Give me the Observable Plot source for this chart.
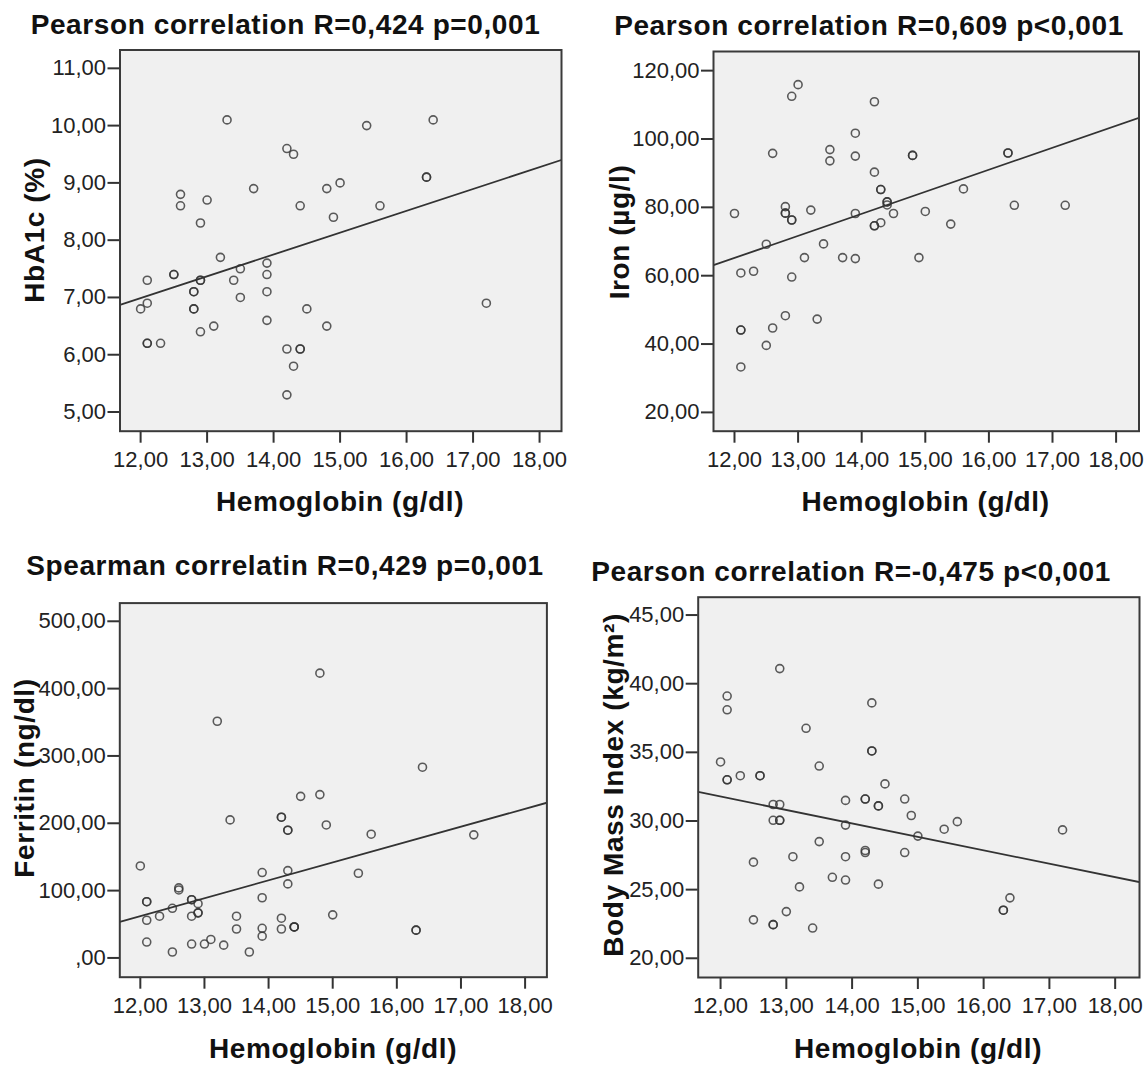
<!DOCTYPE html>
<html>
<head>
<meta charset="utf-8">
<script src="https://cdn.jsdelivr.net/npm/d3@7"></script>
<script src="https://cdn.jsdelivr.net/npm/@observablehq/plot@0.6"></script>
<style>
  html, body { margin: 0; padding: 0; background: #fff; }
  #chart { position: relative; width: 1144px; height: 1065px; overflow: hidden; background: #fff;
           font-family: "Liberation Sans", Arial, sans-serif; }
  .lbl { position: absolute; left: 0; top: 0; white-space: nowrap; transform-origin: 0 0;
         font-family: "Liberation Sans", Arial, sans-serif; font-weight: bold; font-size: 28px;
         line-height: 28px; letter-spacing: 0.6px; color: #111; }
  .panel { position: absolute; }
</style>
</head>
<body>
<div id="chart"></div>
<script>
// ---------- data ----------
const hbTicks = [12, 13, 14, 15, 16, 17, 18];

// Panel A: HbA1c vs Hemoglobin
const hbA = [13.3,15.4,16.4,14.2,14.3,16.3,16.3,15.0,14.8,13.7,12.6,12.6,13.0,14.4,15.6,14.9,12.9,13.2,12.5,12.5,12.1,12.9,12.9,13.4,13.5,13.9,13.9,13.9,12.8,12.8,13.5,12.1,12.0,12.8,12.8,14.5,17.2,13.1,12.9,14.8,13.9,12.1,12.1,12.3,14.2,14.4,14.4,14.3,14.2];
const hba1c = [10.1,10.0,10.1,9.6,9.5,9.1,9.1,9.0,8.9,8.9,8.8,8.6,8.7,8.6,8.6,8.4,8.3,7.7,7.4,7.4,7.3,7.3,7.3,7.3,7.5,7.6,7.4,7.1,7.1,7.1,7.0,6.9,6.8,6.8,6.8,6.8,6.9,6.5,6.4,6.5,6.6,6.2,6.2,6.2,6.1,6.1,6.1,5.8,5.3];
const hba1cTicks = [5, 6, 7, 8, 9, 10, 11];
const fitA = [2.416, 0.381]; // intercept, slope

// Panel B: Iron vs Hemoglobin
const hbB = [12.0,12.5,12.6,12.8,12.8,12.8,12.9,12.9,12.9,13.0,13.2,13.4,13.5,13.5,13.9,13.9,13.9,14.2,14.2,14.3,14.3,14.2,14.2,14.3,14.4,14.4,14.4,14.5,14.8,14.8,15.0,15.4,15.6,16.3,16.3,16.4,17.2,13.1,13.7,13.9,14.9,12.1,12.3,12.9,12.8,13.3,12.1,12.1,12.6,12.5,12.1];
const iron = [78.2,69.2,95.8,80.2,78.3,78.3,76.3,76.3,112.5,115.9,79.2,69.3,96.9,93.6,101.7,95.0,78.2,110.9,90.3,85.2,85.2,74.6,74.6,75.5,81.6,81.6,80.7,78.2,95.2,95.2,78.8,75.1,85.4,95.9,95.9,80.6,80.6,65.3,65.3,65.0,65.3,60.8,61.3,59.6,48.3,47.3,44.1,44.1,44.7,39.6,33.3];
const ironTicks = [20, 40, 60, 80, 100, 120];
const fitB = [-12.2, 6.45];

// Panel C: Ferritin vs Hemoglobin
const hbC = [13.2,14.8,16.4,14.5,14.8,12.0,12.1,12.1,12.1,12.1,12.3,12.5,12.5,12.6,12.6,12.8,12.8,12.8,12.8,12.9,12.9,12.9,13.0,13.1,13.3,13.4,13.5,13.5,13.7,13.9,13.9,13.9,13.9,14.2,14.2,14.2,14.2,14.3,14.3,14.3,14.3,14.4,14.4,14.4,14.9,15.0,15.4,15.6,16.3,16.3,17.2];
const ferritin = [351.5,423,283.3,240,242.6,136.6,83.5,83.5,56,23.6,62,73.7,8.8,104,101,86.5,86.5,62,20.6,80.6,67,67,20.6,27.5,19,205,62,43,8.8,126.8,89.4,44,32.4,209,209,59,43,189.7,189.7,129.7,110,46,46,46,197.5,64,125.8,183.8,41.3,41.3,182.8];
const ferritinTicks = [0, 100, 200, 300, 400, 500];
const fitC = [-256.6, 26.56];

// Panel D: Body Mass Index vs Hemoglobin
const hbD = [12.9,12.1,12.1,14.3,13.3,14.3,14.3,12.0,13.5,12.1,12.1,12.3,12.6,12.6,14.5,12.8,12.9,12.8,12.9,12.9,13.9,14.2,14.2,14.4,14.4,14.8,14.9,13.9,15.0,15.4,15.6,17.2,13.5,14.2,14.2,14.8,13.9,13.1,12.5,13.7,13.9,14.4,13.2,16.4,16.3,16.3,13.0,12.5,12.8,12.8,13.4];
const bmi = [41.1,39.1,38.1,38.6,36.75,35.1,35.1,34.3,34.0,33.0,33.0,33.3,33.3,33.3,32.7,31.2,31.2,30.05,30.05,30.05,31.5,31.6,31.6,31.1,31.1,31.6,30.4,29.7,28.9,29.4,29.95,29.35,28.5,27.85,27.7,27.7,27.4,27.4,27.0,25.9,25.7,25.4,25.2,24.4,23.5,23.5,23.4,22.8,22.45,22.45,22.2];
const bmiTicks = [20, 25, 30, 35, 40, 45];
const fitD = [43.53, -0.979];

// ---------- text ----------
const titles = [
  "Pearson correlation R=0,424 p=0,001",
  "Pearson correlation R=0,609 p<0,001",
  "Spearman correlatin R=0,429 p=0,001",
  "Pearson correlation R=-0,475 p<0,001"
];
const xLabel = "Hemoglobin (g/dl)";
const yLabels = ["HbA1c (%)", "Iron (µg/l)", "Ferritin (ng/dl)", "Body Mass Index (kg/m²)"];

// ---------- drawing ----------
const fmt = d => d === 0 ? ",00" : d3.format(".2f")(d).replace(".", ",");
const chart = document.getElementById("chart");

function addLabel(text, x, y, rotate) {
  const el = document.createElement("div");
  el.className = "lbl";
  el.textContent = text;
  const base = 23.7;
  el.style.transform = rotate
    ? `translate(${x}px, ${y}px) rotate(-90deg) translate(-50%, -${base}px)`
    : `translate(${x}px, ${y}px) translate(-50%, -${base}px)`;
  chart.appendChild(el);
}

const panels = [
  { hb: hbA, v: hba1c, yTicks: hba1cTicks, fit: fitA, xDom: [11.69, 18.33], yDom: [4.665, 11.32],
    frame: [119.5, 561, 49.5, 430.7], svg: [0, 40, 572, 440],
    title: [285.5, 35], xlab: [340, 512], ylab: [45, 230] },
  { hb: hbB, v: iron, yTicks: ironTicks, fit: fitB, xDom: [11.67, 18.36], yDom: [14.5, 125.6],
    frame: [713, 1138.5, 51, 430.7], svg: [572, 40, 572, 440],
    title: [869, 36], xlab: [925.5, 512], ylab: [630, 232] },
  { hb: hbC, v: ferritin, yTicks: ferritinTicks, fit: fitC, xDom: [11.68, 18.34], yDom: [-28.6, 527],
    frame: [119.3, 546.4, 602.6, 976.7], svg: [0, 590, 572, 440],
    title: [285, 576], xlab: [333, 1059], ylab: [35, 778] },
  { hb: hbD, v: bmi, yTicks: bmiTicks, fit: fitD, xDom: [11.66, 18.37], yDom: [18.6, 46.3],
    frame: [697.7, 1139, 596.7, 977], svg: [572, 590, 572, 440],
    title: [851, 581.5], xlab: [918, 1059], ylab: [624, 785] }
];

panels.forEach((p, i) => {
  const [L, R, T, B] = p.frame;
  const [sx, sy, sw, sh] = p.svg;
  const pts = d3.zip(p.hb, p.v).map(([x, y]) => ({x, y}));
  const line = p.xDom.map(x => ({x, y: p.fit[0] + p.fit[1] * x}));
  const plot = Plot.plot({
    width: sw, height: sh,
    marginLeft: L - sx, marginRight: sx + sw - R,
    marginTop: T - sy, marginBottom: sy + sh - B,
    style: { fontFamily: "'Liberation Sans', Arial, sans-serif", fontSize: "22px", background: "transparent", overflow: "visible" },
    x: { domain: p.xDom },
    y: { domain: p.yDom },
    marks: [
      Plot.frame({ fill: "#f0f0f0", stroke: "none" }),
      Plot.axisX({ ticks: hbTicks, tickFormat: fmt, tickSize: 12, tickPadding: 8, label: null,
                   stroke: "#333", strokeWidth: 2, fill: "#222" }),
      Plot.axisY({ ticks: p.yTicks, tickFormat: fmt, tickSize: 12, tickPadding: 2, label: null,
                   stroke: "#333", strokeWidth: 2, fill: "#222" }),
      Plot.line(line, { x: "x", y: "y", stroke: "#333", strokeWidth: 1.8, clip: true }),
      Plot.dot(pts, { x: "x", y: "y", r: 4, stroke: "#333", strokeOpacity: 0.8, strokeWidth: 1.6, fill: "none" }),
      Plot.frame({ stroke: "#3a3a3a", strokeWidth: 2 })
    ]
  });
  plot.classList.add("panel");
  plot.style.left = sx + "px";
  plot.style.top = sy + "px";
  chart.appendChild(plot);
  addLabel(titles[i], p.title[0], p.title[1], false);
  addLabel(xLabel, p.xlab[0], p.xlab[1], false);
  addLabel(yLabels[i], p.ylab[0], p.ylab[1], true);
});
</script>
</body>
</html>
